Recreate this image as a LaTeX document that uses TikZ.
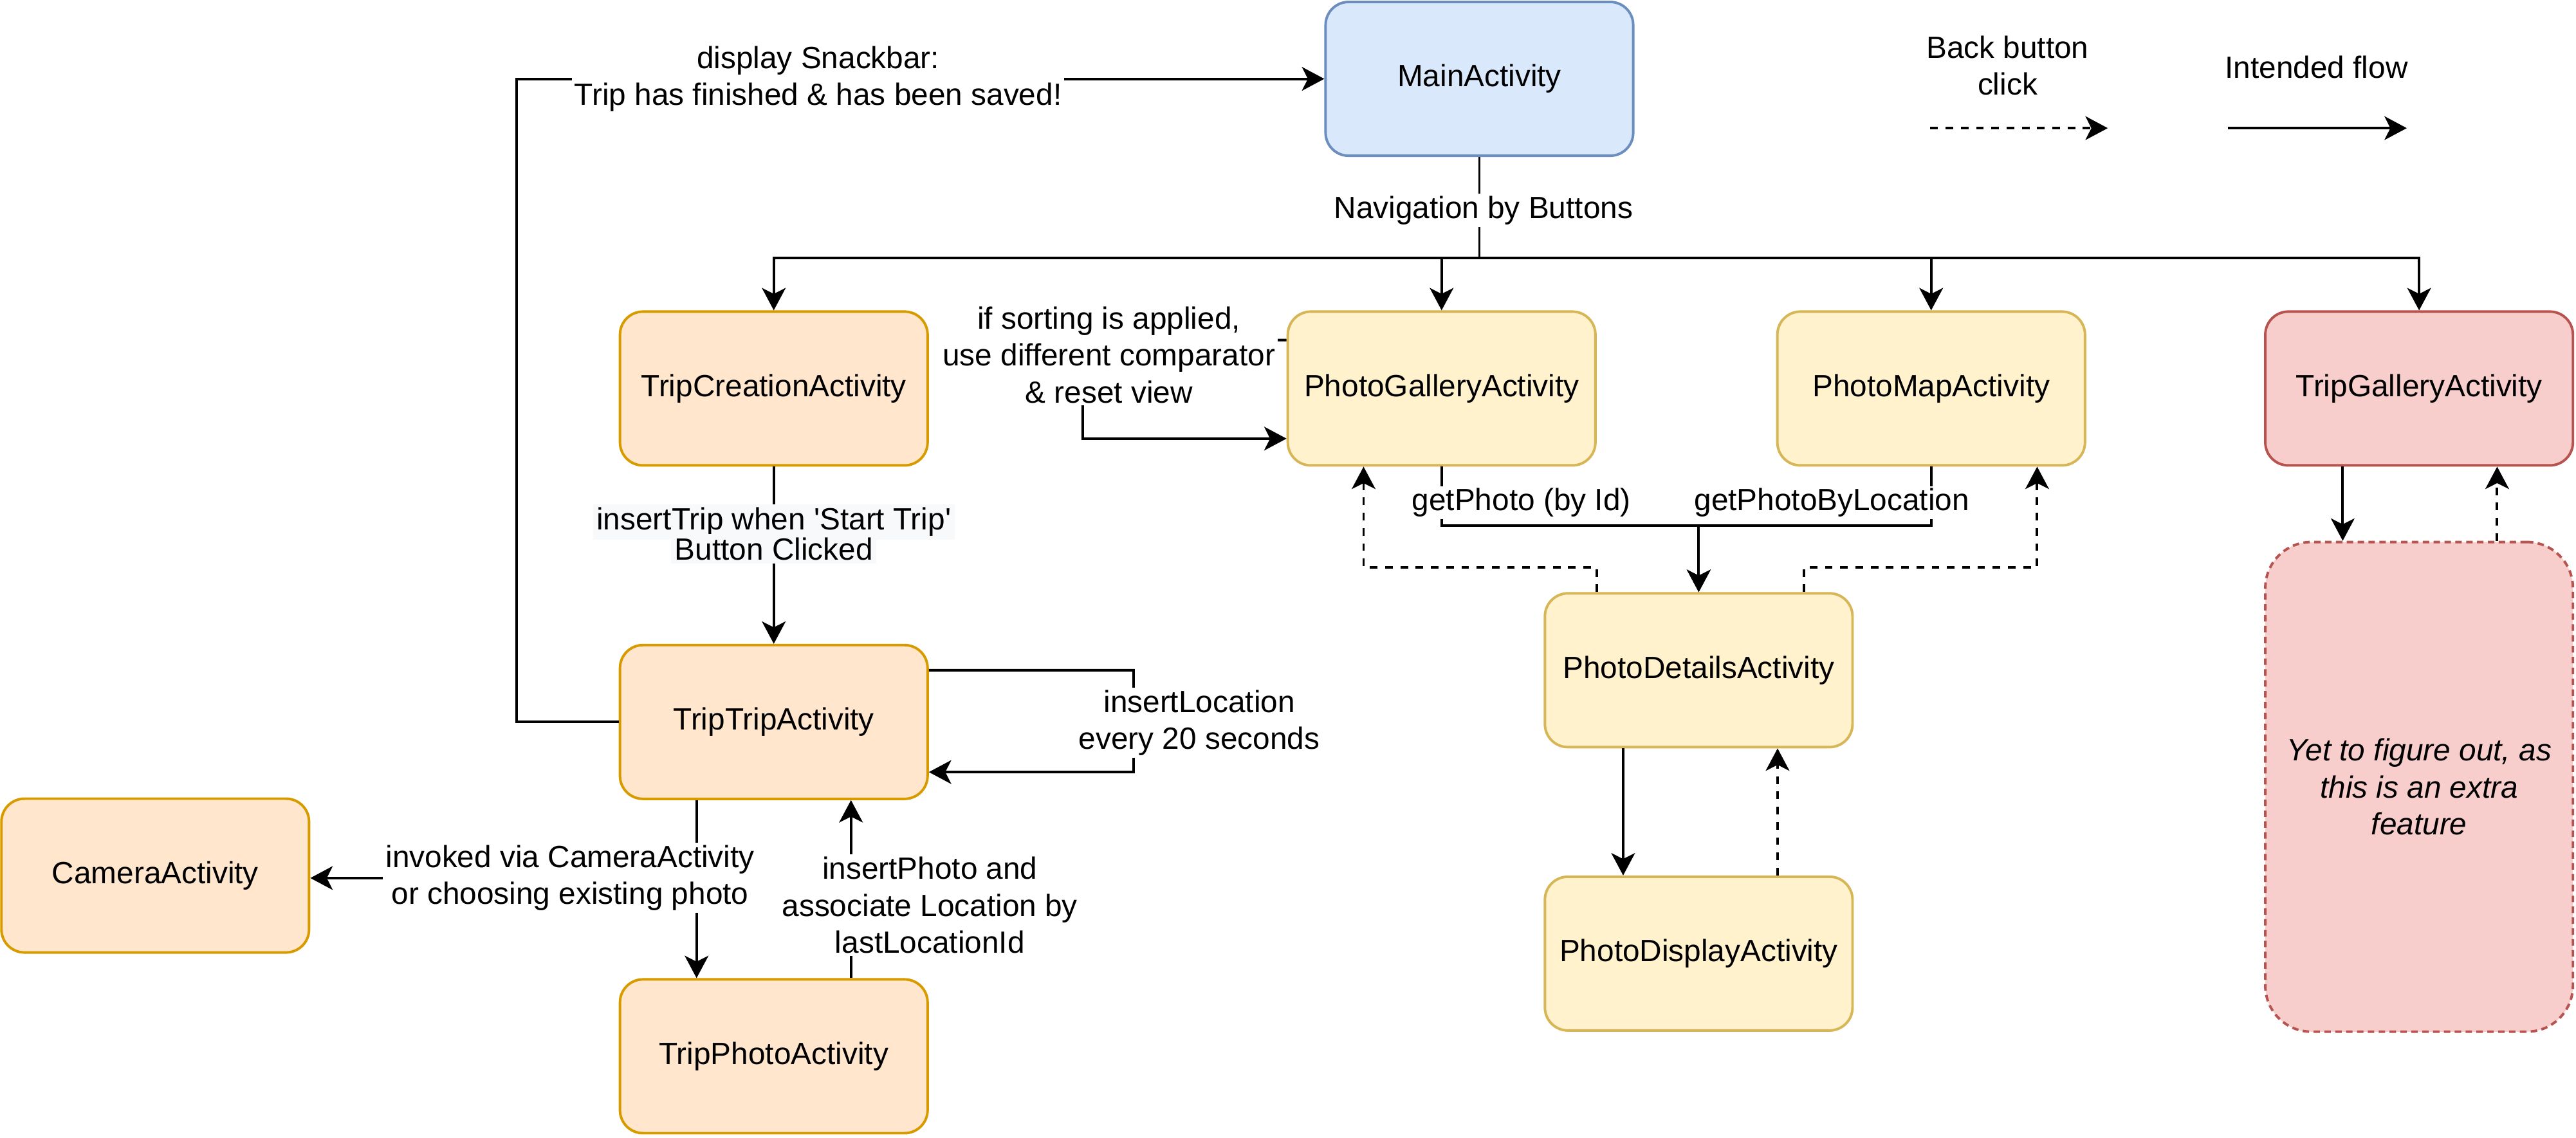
\documentclass[tikz,border=0pt]{standalone}
\usepackage{fontspec}
\setmainfont{Liberation Sans}
\usetikzlibrary{arrows.meta,calc}
\definecolor{bluefill}{HTML}{DAE8FC}
\definecolor{bluedraw}{HTML}{6C8EBF}
\definecolor{orangefill}{HTML}{FFE6CC}
\definecolor{orangedraw}{HTML}{D79B00}
\definecolor{yellowfill}{HTML}{FFF2CC}
\definecolor{yellowdraw}{HTML}{D6B656}
\definecolor{redfill}{HTML}{F8CECC}
\definecolor{reddraw}{HTML}{B85450}
\definecolor{labelgray}{HTML}{F8F9FA}
\setlength{\fboxsep}{1.5pt}

\begin{document}
\begin{tikzpicture}[x=0.025cm,y=-0.025cm,
  every node/.style={font=\fontsize{13.3}{16}\selectfont},
  act/.style={draw, rounded corners=0.35cm, line width=1.1pt, minimum width=4.68cm, minimum height=2.34cm, align=center, inner sep=0pt},
  mainact/.style={act, fill=bluefill, draw=bluedraw},
  tripact/.style={act, fill=orangefill, draw=orangedraw},
  photoact/.style={act, fill=yellowfill, draw=yellowdraw},
  galact/.style={act, fill=redfill, draw=reddraw},
  flow/.style={line width=1.1pt, -{Stealth[length=0.34cm,width=0.36cm,inset=0.09cm]}},
  back/.style={flow, dash pattern=on 3.3pt off 3.3pt},
  lbl/.style={fill=white, align=center, inner sep=1pt}]
\useasboundingbox (0,0) rectangle (1568,692.4);

% activities
\node[mainact] (main) at (900.5,48) {MainActivity};
\node[tripact] (create) at (471,236.5) {TripCreationActivity};
\node[photoact] (gal) at (877.5,236.5) {PhotoGalleryActivity};
\node[photoact] (map) at (1175.5,236.5) {PhotoMapActivity};
\node[galact] (tgal) at (1472.5,236.5) {TripGalleryActivity};
\node[tripact] (trip) at (471,439.5) {TripTripActivity};
\node[tripact] (cam) at (94.5,533) {CameraActivity};
\node[tripact] (tphoto) at (471,643) {TripPhotoActivity};
\node[photoact] (det) at (1034,408) {PhotoDetailsActivity};
\node[photoact] (disp) at (1034,580.5) {PhotoDisplayActivity};
\node[galact, dash pattern=on 2.8pt off 1.9pt, rounded corners=0.7cm, minimum height=7.45cm, font=\fontsize{13.3}{16}\selectfont\itshape] (extra) at (1472.5,479) {Yet to figure out, as\\this is an extra\\feature};

% legend
\node (lback) at (1222,40) [align=center] {Back button\\click};
\node (lflow) at (1410,41) {Intended flow};
\coordinate (b1) at (1175,78);
\coordinate (b2) at (1283,78);
\coordinate (f1) at (1356,78);
\coordinate (f2) at (1465,78);
\draw[back] (b1) -- (b2);
\draw[flow] (f1) -- (f2);

% navigation from main
\coordinate (bus) at (900.5,157);
\draw[line width=1.1pt] (main.south) -- (bus);
\draw[flow] (bus) -| (create.north);
\draw[flow] (bus) -| (gal.north);
\draw[flow] (bus) -| (map.north);
\draw[flow] (bus) -| (tgal.north);

% trip flow
\draw[flow] (create.south) -- (trip.north);
\draw[flow] (trip.west) -- ++(-62,0) |- (main.west);
\draw[flow] ($(trip.east)+(0,-31.5)$) -- (690,408) -- (690,470) -- ($(trip.east)+(0,30.5)$);
\draw[flow] ($(trip.south)+(-47,0)$) -- ($(tphoto.north)+(-47,0)$);
\draw[flow] ($(tphoto.north)+(47,0)$) -- ($(trip.south)+(47,0)$);

% photo flow
\draw[flow] ($(gal.west)+(0,-29.5)$) -- (659,207) -- (659,267) -- ($(gal.west)+(0,30.5)$);
\draw[flow] (gal.south) -- ++(0,36) -| (det.north);
\draw[flow] (map.south) -- ++(0,36) -| (det.north);
\draw[back] ($(det.north)+(-62,0)$) -- ++(0,-15) -| ($(gal.south)+(-47.5,0)$);
\draw[back] ($(det.north)+(64,0)$) -- ++(0,-15) -| ($(map.south)+(64.5,0)$);
\draw[flow] ($(det.south)+(-46,0)$) -- ($(disp.north)+(-46,0)$);
\draw[back] ($(disp.north)+(48,0)$) -- ($(det.south)+(48,0)$);

% trip gallery
\draw[flow] ($(tgal.south)+(-46.5,0)$) -- ($(extra.north)+(-46.5,0)$);
\draw[back] ($(extra.north)+(47.5,0)$) -- ($(tgal.south)+(47.5,0)$);

% labels
\node[lbl] (lsnack) at (498,48) {display Snackbar:\\Trip has finished \& has been saved!};
\node[lbl] (lnav) at (903,128) {Navigation by Buttons};
\node[lbl] (lsort) at (675,216) {if sorting is applied,\\use different comparator\\\& reset view};
\node[lbl, inner sep=0pt] (ltrip) at (471,325) {\colorbox{labelgray}{insertTrip when \textquotesingle Start Trip\textquotesingle}\\[-3pt]\colorbox{labelgray}{Button Clicked}};
\node[lbl] (lloc) at (730,440) {insertLocation\\every 20 seconds};
\node[lbl] (lcam) at (347,534.5) {invoked via CameraActivity\\or choosing existing photo};
\node[lbl] (lphoto) at (566,551) {insertPhoto and\\associate Location by\\lastLocationId};
\node[lbl] (lgetid) at (926,306) {getPhoto (by Id)};
\node[lbl] (lgetloc) at (1115,306) {getPhotoByLocation};
\draw[flow] (lcam.west) -- (lcam.west -| cam.east);
\end{tikzpicture}
\end{document}
